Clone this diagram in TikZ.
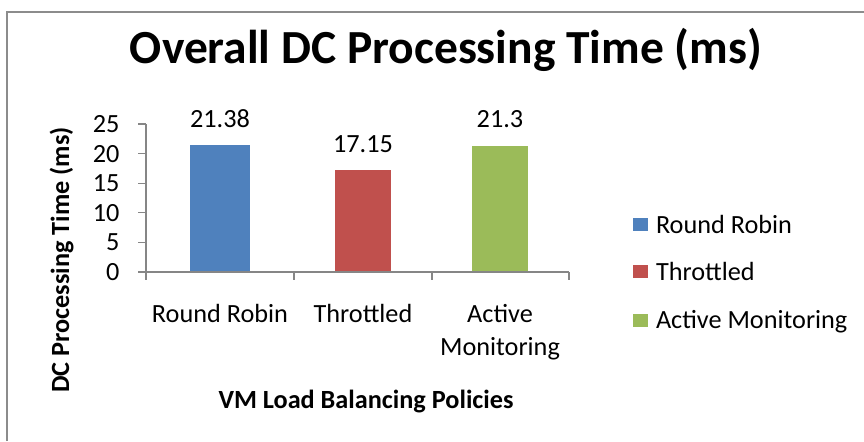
\documentclass[tikz,border=0pt]{standalone}
\usepackage{fontspec}
\setmainfont{Carlito}
\usetikzlibrary{positioning}
\definecolor{ink}{HTML}{000000}
\definecolor{frame}{HTML}{8C8C8C}
\definecolor{axis}{HTML}{868686}
\definecolor{rrblue}{HTML}{4F81BD}
\definecolor{thred}{HTML}{C0504D}
\definecolor{amgreen}{HTML}{9BBB59}
\tikzset{
  every node/.style = {font=\fontsize{10.5}{13.5}\selectfont, text=ink, inner sep=0pt},
  dcframe/.style   = {draw=frame, line width=0.8pt},
  dcaxis/.style    = {draw=axis, line width=0.45pt},
  dcnum/.style     = {anchor=east},
  dccat/.style     = {anchor=base, align=center},
  dcval/.style     = {anchor=south},
  dctitle/.style   = {font=\fontsize{19}{23}\selectfont\bfseries, anchor=base},
  dcaxtitle/.style = {font=\fontsize{10.5}{13.5}\selectfont\bfseries, anchor=base},
  dckey/.style     = {minimum width=6pt, minimum height=5.2pt},
  dclegend/.style  = {anchor=west, text height=6.9pt, text depth=0pt},
}

\begin{document}
\begin{tikzpicture}[x=0.4pt, y=-0.4pt]
\useasboundingbox (0,0) rectangle (864,441);

% chart frame, cut by the page at right and bottom
\draw[dcframe] (7,441) -- (7,12) -- (864,12);

\node[dctitle] (title) at (446,63) {Overall DC Processing Time (ms)};

% bars
\fill[rrblue]  (190,272) rectangle (250,{272-21.38*5.92});
\fill[thred]   (335,272) rectangle (391,{272-17.15*5.92});
\fill[amgreen] (472,272) rectangle (528,{272-21.3*5.92});

\coordinate (rrtop) at (220,{272-21.38*5.92});
\coordinate (thtop) at (363,{272-17.15*5.92});
\coordinate (amtop) at (500,{272-21.3*5.92});
\node[dcval, above=7pt of rrtop] (rrval) {21.38};
\node[dcval, above=7pt of thtop] (thval) {17.15};
\node[dcval, above=7pt of amtop] (amval) {21.3};

% axes
\draw[dcaxis] (146,124) -- (146,280);
\draw[dcaxis] (146,272) -- (569,272);
\draw[dcaxis] (294,272) -- (294,280);
\draw[dcaxis] (432,272) -- (432,280);
\draw[dcaxis] (569,272) -- (569,280);

\draw[dcaxis] (138,272) -- (146,272);
\draw[dcaxis] (138,242.4) -- (146,242.4);
\draw[dcaxis] (138,212.8) -- (146,212.8);
\draw[dcaxis] (138,183.2) -- (146,183.2);
\draw[dcaxis] (138,153.6) -- (146,153.6);
\draw[dcaxis] (138,124) -- (146,124);

\node[dcnum] (y0)  at (120,272)   {0};
\node[dcnum] (y5)  at (120,242.4) {5};
\node[dcnum] (y10) at (120,212.8) {10};
\node[dcnum] (y15) at (120,183.2) {15};
\node[dcnum] (y20) at (120,153.6) {20};
\node[dcnum] (y25) at (120,124)   {25};

\node[dccat] (rrcat) at (220,322) {Round Robin};
\node[dccat] (thcat) at (363,322) {Throttled};
\node[dccat] (amcat) at (500,355.75) {Active\\Monitoring};

\node[dcaxtitle] (xtitle) at (366,408) {VM Load Balancing Policies};
\node[dcaxtitle, rotate=90] (ytitle) at (69,260) {DC Processing Time (ms)};

% legend
\node[dckey, fill=rrblue]  (rrkey) at (640.5,224.5) {};
\node[dckey, fill=thred]   (thkey) at (640.5,271.5) {};
\node[dckey, fill=amgreen] (amkey) at (640.5,320) {};
\node[dclegend, right=2.8pt of rrkey] (rrname) {Round Robin};
\node[dclegend, right=2.8pt of thkey] (thname) {Throttled};
\node[dclegend, right=2.8pt of amkey] (amname) {Active Monitoring};
\end{tikzpicture}
\end{document}
